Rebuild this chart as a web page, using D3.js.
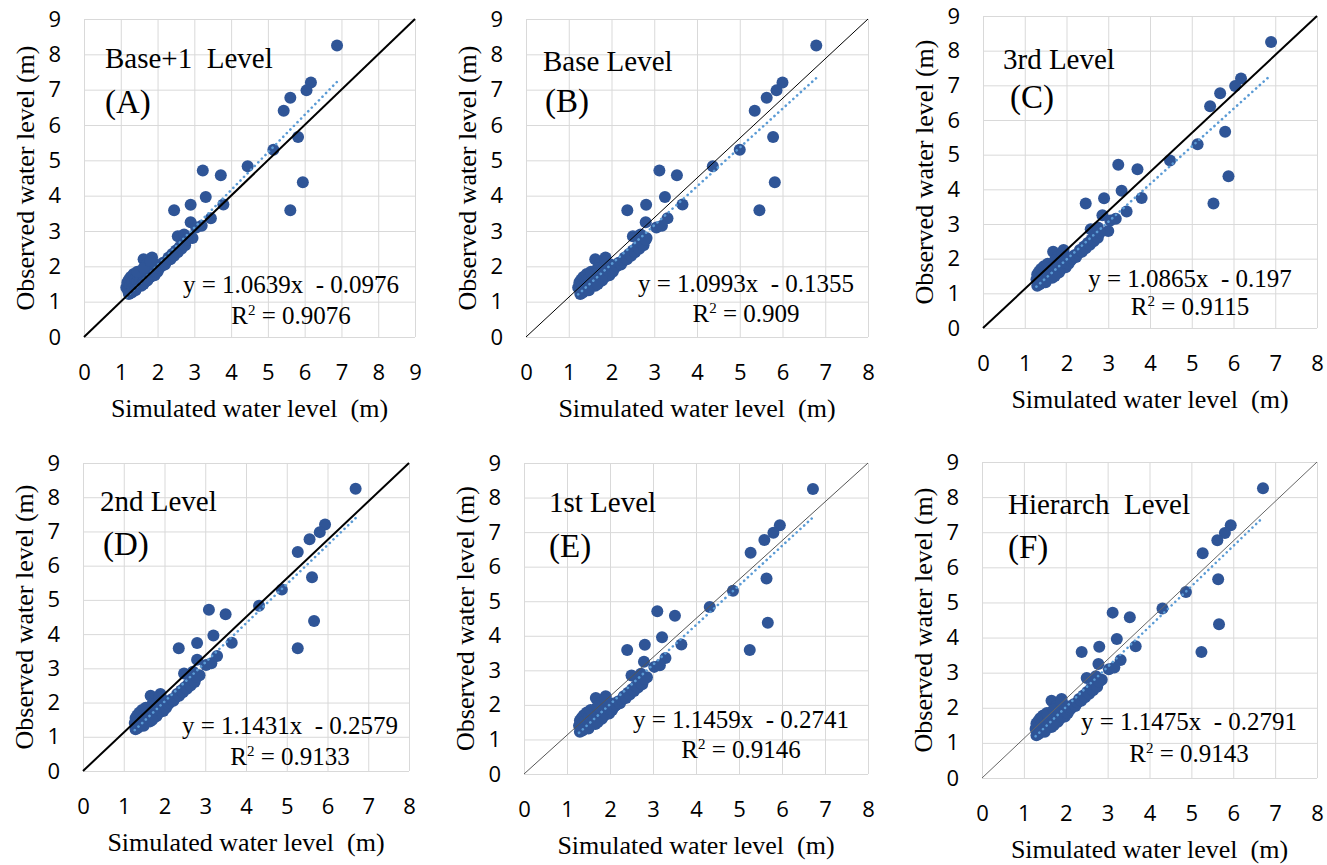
<!DOCTYPE html>
<html>
<head>
<meta charset="utf-8">
<style>
body { margin: 0; background: #fff; }
svg { display: block; }
.serif { font-family: "Liberation Serif", "Times New Roman", serif; fill: #000; white-space: pre; }
</style>
</head>
<body>
<svg id="chart" width="1327" height="865"></svg>
<script src="https://cdn.jsdelivr.net/npm/d3@7/dist/d3.min.js"></script>
<script>

// ---- data ----
var panelNames = ["Base+1  Level", "Base Level", "3rd Level", "2nd Level", "1st Level", "Hierarch  Level"];
var panelLetters = ["(A)", "(B)", "(C)", "(D)", "(E)", "(F)"];
var slopes = [1.0639, 1.0993, 1.0865, 1.1431, 1.1459, 1.1475];
var intercepts = [-0.0976, -0.1355, -0.197, -0.2579, -0.2741, -0.2791];
var r2s = ["0.9076", "0.909", "0.9115", "0.9133", "0.9146", "0.9143"];
var xMax = [9, 8, 8, 8, 8, 8];
var yMax = 9;
var xTicksA = [0, 1, 2, 3, 4, 5, 6, 7, 8, 9];
var xTicks = [0, 1, 2, 3, 4, 5, 6, 7, 8];
var yTicks = [0, 1, 2, 3, 4, 5, 6, 7, 8, 9];
// end of the hand drawn reference line (from 0,0)
var diagEndX = [9, 8, 8, 8, 8, 8];

// observed water level (same stations in every panel)
var observed = [
  8.25, 7.20, 6.98, 6.77, 6.40, 5.66, 5.30, 4.83, 4.71, 4.58, 4.38, 3.59, 3.59, 3.96, 3.74, 3.75, 3.36, 3.25, 2.80,
  1.40, 1.55, 1.30, 1.62, 1.45, 1.70, 1.35, 1.55, 1.78, 1.48,
  1.65, 1.40, 1.58, 1.72, 1.50, 1.62, 1.45, 1.55, 2.20, 1.68,
  1.58, 2.05, 1.75, 1.65, 1.85, 1.70, 2.25, 1.80, 1.90, 1.75,
  2.05, 1.85, 1.95, 2.00, 2.10, 2.05, 2.15, 2.25, 2.20, 2.35,
  2.30, 2.45, 2.85, 2.40, 2.55, 2.50, 2.65, 2.90, 2.60, 2.75,
  3.10, 3.15, 1.22, 1.26, 1.85, 1.32, 1.95, 1.60, 2.15, 1.50
];

// simulated water level for each model level
var simA = [
  6.88, 6.17, 6.05, 5.61, 5.43, 5.82, 5.15, 4.45, 3.23, 3.72, 5.95, 5.61, 2.45, 3.31, 2.90, 3.79, 3.45, 2.90, 2.95,
  1.15, 1.18, 1.20, 1.22, 1.25, 1.27, 1.30, 1.32, 1.35, 1.38,
  1.40, 1.42, 1.45, 1.48, 1.50, 1.53, 1.56, 1.60, 1.62, 1.65,
  1.68, 1.70, 1.72, 1.75, 1.78, 1.80, 1.85, 1.85, 1.90, 1.92,
  1.95, 2.00, 2.05, 2.10, 2.15, 2.20, 2.25, 2.30, 2.35, 2.40,
  2.45, 2.50, 2.55, 2.55, 2.60, 2.65, 2.70, 2.72, 2.75, 2.80,
  3.05, 3.20, 1.22, 1.30, 1.45, 1.40, 1.62, 1.72, 1.80, 1.62
];
var simB = [
  6.79, 6.00, 5.86, 5.63, 5.35, 5.78, 5.00, 4.37, 3.12, 3.53, 5.82, 5.46, 2.37, 3.25, 2.81, 3.66, 3.31, 2.80, 2.82,
  1.22, 1.25, 1.27, 1.29, 1.32, 1.34, 1.37, 1.39, 1.42, 1.45,
  1.47, 1.49, 1.52, 1.55, 1.57, 1.59, 1.62, 1.65, 1.62, 1.70,
  1.73, 1.72, 1.76, 1.79, 1.82, 1.84, 1.86, 1.88, 1.93, 1.95,
  1.98, 2.03, 2.07, 2.12, 2.17, 2.22, 2.27, 2.31, 2.36, 2.41,
  2.46, 2.50, 2.50, 2.55, 2.60, 2.65, 2.70, 2.68, 2.75, 2.80,
  3.05, 3.18, 1.27, 1.33, 1.52, 1.47, 1.68, 1.78, 1.86, 1.68
];
var simC = [
  6.90, 6.18, 6.04, 5.68, 5.44, 5.80, 5.14, 4.48, 3.24, 3.70, 5.88, 5.52, 2.46, 3.32, 2.90, 3.80, 3.44, 2.86, 3.00,
  1.28, 1.30, 1.32, 1.34, 1.37, 1.39, 1.41, 1.43, 1.46, 1.49,
  1.51, 1.53, 1.56, 1.59, 1.61, 1.63, 1.66, 1.69, 1.68, 1.74,
  1.76, 1.78, 1.80, 1.83, 1.85, 1.87, 1.93, 1.91, 1.96, 1.98,
  2.01, 2.05, 2.10, 2.14, 2.19, 2.23, 2.28, 2.32, 2.37, 2.42,
  2.46, 2.51, 2.58, 2.56, 2.60, 2.65, 2.70, 2.75, 2.75, 2.80,
  3.05, 3.18, 1.30, 1.36, 1.55, 1.50, 1.72, 1.82, 1.90, 1.72
];
var simD = [
  6.69, 5.94, 5.81, 5.56, 5.27, 5.62, 4.88, 4.32, 3.09, 3.50, 5.67, 5.27, 2.35, 3.20, 2.80, 3.65, 3.29, 2.80, 2.86,
  1.27, 1.29, 1.31, 1.33, 1.36, 1.38, 1.40, 1.42, 1.45, 1.48,
  1.50, 1.52, 1.55, 1.58, 1.60, 1.62, 1.65, 1.68, 1.66, 1.73,
  1.75, 1.76, 1.79, 1.82, 1.84, 1.86, 1.90, 1.90, 1.95, 1.97,
  2.00, 2.04, 2.09, 2.13, 2.18, 2.22, 2.27, 2.31, 2.36, 2.41,
  2.45, 2.50, 2.48, 2.55, 2.59, 2.64, 2.69, 2.70, 2.74, 2.79,
  3.02, 3.15, 1.29, 1.35, 1.54, 1.49, 1.70, 1.80, 1.88, 1.70
];
var simE = [
  6.72, 5.95, 5.80, 5.59, 5.27, 5.64, 4.86, 4.32, 3.10, 3.51, 5.67, 5.25, 2.40, 3.21, 2.81, 3.66, 3.29, 2.79, 2.86,
  1.28, 1.30, 1.32, 1.34, 1.37, 1.39, 1.41, 1.43, 1.46, 1.49,
  1.51, 1.53, 1.56, 1.59, 1.61, 1.63, 1.66, 1.69, 1.67, 1.74,
  1.76, 1.77, 1.80, 1.83, 1.85, 1.87, 1.90, 1.91, 1.96, 1.98,
  2.01, 2.05, 2.10, 2.14, 2.19, 2.23, 2.28, 2.32, 2.37, 2.42,
  2.46, 2.51, 2.50, 2.56, 2.60, 2.65, 2.70, 2.72, 2.75, 2.80,
  3.03, 3.16, 1.30, 1.36, 1.55, 1.50, 1.71, 1.81, 1.89, 1.71
];
var simF = [
  6.71, 5.94, 5.80, 5.62, 5.27, 5.64, 4.87, 4.31, 3.12, 3.53, 5.66, 5.24, 2.38, 3.22, 2.80, 3.67, 3.31, 2.78, 2.86,
  1.28, 1.30, 1.32, 1.34, 1.37, 1.39, 1.41, 1.43, 1.46, 1.49,
  1.51, 1.53, 1.56, 1.59, 1.61, 1.63, 1.66, 1.69, 1.66, 1.74,
  1.76, 1.77, 1.80, 1.83, 1.85, 1.87, 1.90, 1.91, 1.96, 1.98,
  2.01, 2.05, 2.10, 2.14, 2.19, 2.23, 2.28, 2.32, 2.37, 2.42,
  2.46, 2.51, 2.50, 2.56, 2.60, 2.65, 2.70, 2.72, 2.75, 2.80,
  3.03, 3.16, 1.30, 1.36, 1.55, 1.50, 1.71, 1.81, 1.89, 1.71
];
var simulated = [simA, simB, simC, simD, simE, simF];

// ---- layout ----
var panels = [
  {left: 84,  right: 415,  top: 19,  bottom: 337, diagW: 2,   diagC: "#000",
   titleX: 105, titleY: 68, letX: 105, letY: 113, eqX: 291, eqY: 293, r2Y: 324},
  {left: 526, right: 868,  top: 19,  bottom: 337, diagW: 1,   diagC: "#000",
   titleX: 543, titleY: 71, letX: 545, letY: 112, eqX: 746, eqY: 292, r2Y: 322},
  {left: 983, right: 1317, top: 16,  bottom: 328, diagW: 2,   diagC: "#000",
   titleX: 1003, titleY: 69, letX: 1010, letY: 108, eqX: 1190, eqY: 287, r2Y: 315},
  {left: 83,  right: 409,  top: 463, bottom: 771, diagW: 2,   diagC: "#000",
   titleX: 100, titleY: 511, letX: 103, letY: 555, eqX: 290, eqY: 734, r2Y: 765},
  {left: 524, right: 868,  top: 463, bottom: 774, diagW: 1,   diagC: "#555",
   titleX: 549, titleY: 512, letX: 549, letY: 557, eqX: 741, eqY: 728, r2Y: 758},
  {left: 982, right: 1317, top: 462, bottom: 778, diagW: 1,   diagC: "#666",
   titleX: 1008, titleY: 514, letX: 1008, letY: 558, eqX: 1189, eqY: 730, r2Y: 762}
];

var svg = d3.select("#chart");

panels.forEach(function(p, i) {
  drawPanel(svg, p, i);
});

function drawPanel(svg, p, i) {
  var x = d3.scaleLinear().domain([0, xMax[i]]).range([p.left, p.right]);
  var y = d3.scaleLinear().domain([0, yMax]).range([p.bottom, p.top]);
  var g = svg.append("g");

  // grid + tick labels
  g.append("g")
      .attr("transform", "translate(0," + p.bottom + ")")
      .call(d3.axisBottom(x)
        .tickValues(xMax[i] == 9 ? xTicksA : xTicks)
        .tickSize(-(p.bottom - p.top))
        .tickPadding(27)
        .tickFormat(d3.format("d")));
  g.append("g")
      .attr("transform", "translate(" + p.left + ",0)")
      .call(d3.axisLeft(y)
        .tickValues(yTicks)
        .tickSize(-(p.right - p.left))
        .tickPadding(23)
        .tickFormat(d3.format("d")));
  g.selectAll(".domain").remove();
  g.selectAll(".tick line").attr("stroke", "#d9d9d9").attr("stroke-width", 1);
  g.selectAll(".tick text")
    .attr("font-family", "'Open Sans', sans-serif")
    .attr("font-size", 22)
    .attr("fill", "#000");

  // points
  var pts = observed.map(function(o, k) { return {sim: simulated[i][k], obs: o}; });
  g.append("g").selectAll("circle")
    .data(pts)
    .enter().append("circle")
      .attr("cx", function(d) { return x(d.sim); })
      .attr("cy", function(d) { return y(d.obs); })
      .attr("r", 6)
      .attr("fill", "#2f5597");

  // linear trendline (dotted)
  var ext = d3.extent(simulated[i]);
  var trend = ext.map(function(v) { return [v, slopes[i] * v + intercepts[i]]; });
  g.append("path")
    .datum(trend)
    .attr("d", d3.line().x(function(d) { return x(d[0]); }).y(function(d) { return y(d[1]); }))
    .attr("fill", "none")
    .attr("stroke", "#5b9bd5")
    .attr("stroke-width", 2.6)
    .attr("stroke-linecap", "round")
    .attr("stroke-dasharray", "0.1 5");

  // reference line corner to corner
  g.append("line")
    .attr("x1", x(0)).attr("y1", y(0))
    .attr("x2", x(diagEndX[i])).attr("y2", y(yMax))
    .attr("stroke", p.diagC)
    .attr("stroke-width", p.diagW);

  // axis titles
  g.append("text")
    .attr("class", "serif")
    .attr("x", (p.left + p.right) / 2)
    .attr("y", p.bottom + 80)
    .attr("text-anchor", "middle")
    .attr("font-size", 26)
    .text("Simulated water level  (m)");
  g.append("text")
    .attr("class", "serif")
    .attr("transform", "translate(" + (p.left - 50) + "," + ((p.top + p.bottom) / 2) + ") rotate(-90)")
    .attr("text-anchor", "middle")
    .attr("font-size", 26)
    .text("Observed water level (m)");

  // panel title
  g.append("text")
    .attr("class", "serif")
    .attr("x", p.titleX).attr("y", p.titleY)
    .attr("font-size", 29)
    .text(panelNames[i]);
  g.append("text")
    .attr("class", "serif")
    .attr("x", p.letX).attr("y", p.letY)
    .attr("font-size", 33)
    .text(panelLetters[i]);

  // equation
  g.append("text")
    .attr("class", "serif")
    .attr("x", p.eqX).attr("y", p.eqY)
    .attr("text-anchor", "middle")
    .attr("font-size", 25)
    .text("y = " + slopes[i] + "x  - " + Math.abs(intercepts[i]));
  var r2 = g.append("text")
    .attr("class", "serif")
    .attr("x", p.eqX).attr("y", p.r2Y)
    .attr("text-anchor", "middle")
    .attr("font-size", 25);
  r2.append("tspan").text("R");
  r2.append("tspan").attr("font-size", 15).attr("dy", -9).text("2");
  r2.append("tspan").attr("dy", 9).text(" = " + r2s[i]);
}

</script>
</body>
</html>
